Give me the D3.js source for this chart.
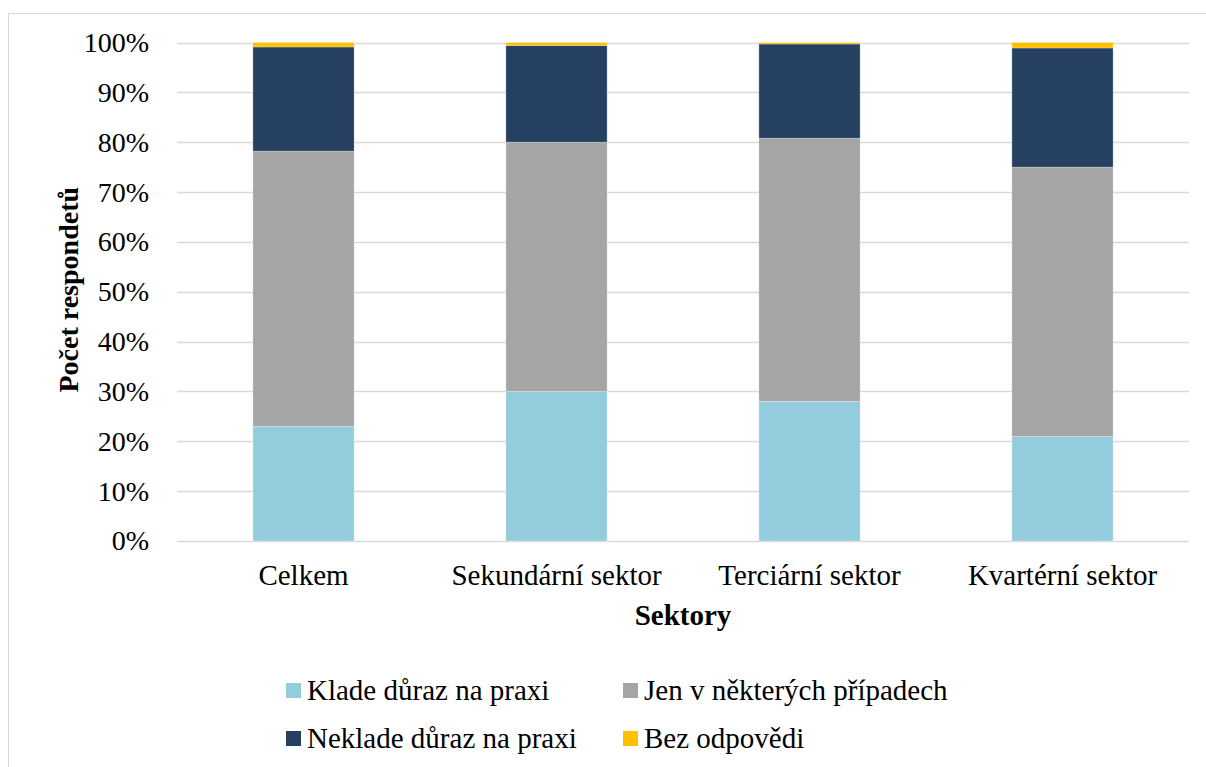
<!DOCTYPE html>
<html>
<head>
<meta charset="utf-8">
<script src="https://cdn.jsdelivr.net/npm/d3@7"></script>
<style>
  html, body { margin: 0; padding: 0; background: #fff; }
  svg { display: block; }
  text { font-family: "Liberation Serif", "Times New Roman", serif; fill: #000; }
</style>
</head>
<body>
<svg id="chart" width="1206" height="767"></svg>
<script>
// Sectors on the x axis
const categories = ["Celkem", "Sekundární sektor", "Terciární sektor", "Kvartérní sektor"];
// Share of respondents per answer (%)
const kladeDuraz = [23.0, 30.0, 28.0, 21.0];
const jenNekdy = [55.2, 50.0, 52.8, 54.0];
const nekladeDuraz = [20.9, 19.4, 18.9, 23.9];
const bezOdpovedi = [0.9, 0.6, 0.3, 1.1];
const seriesNames = ["Klade důraz na praxi", "Jen v některých případech", "Neklade důraz na praxi", "Bez odpovědi"];
const seriesColors = ["#93CDDD", "#A5A5A5", "#254061", "#FFC000"];
const yTicks = [0, 10, 20, 30, 40, 50, 60, 70, 80, 90, 100];

const seriesValues = [kladeDuraz, jenNekdy, nekladeDuraz, bezOdpovedi];
const rows = categories.map((c, i) => {
  const r = { cat: c };
  seriesNames.forEach((s, k) => { r[s] = seriesValues[k][i]; });
  return r;
});
const stacked = d3.stack().keys(seriesNames)(rows);

const svg = d3.select("#chart");
const W = 1206, H = 767;
const m = { left: 177, right: 1189, top: 42.5, bottom: 541 };
const FONT = "Liberation Serif";

// outer frame
svg.append("rect")
  .attr("x", 8.5).attr("y", 13.5)
  .attr("width", W + 10).attr("height", H + 10)
  .attr("fill", "#fff").attr("stroke", "#D9D9D9").attr("stroke-width", 1);

const x = d3.scaleBand().domain(categories).range([m.left, m.right]).paddingInner(0.6).paddingOuter(0.3);
const y = d3.scaleLinear().domain([0, 100]).range([m.bottom, m.top]);

// gridlines
svg.append("g").selectAll("line").data(yTicks).join("line")
  .attr("x1", m.left).attr("x2", m.right)
  .attr("y1", d => Math.round(y(d)) + 0.5).attr("y2", d => Math.round(y(d)) + 0.5)
  .attr("stroke", "#D9D9D9").attr("stroke-width", 1.5);

// y axis labels
const yAxis = d3.axisLeft(y).tickValues(yTicks).tickFormat(d => d + "%").tickSize(0).tickPadding(28);
const ya = svg.append("g").attr("transform", `translate(${m.left},0)`).call(yAxis);
ya.attr("font-family", FONT);
ya.select(".domain").remove();
ya.selectAll("text").style("font-size", "28px").style("font-family", FONT).attr("fill", "#000");

// bars
svg.append("g").selectAll("g").data(stacked).join("g")
  .attr("fill", (d, i) => seriesColors[i])
  .selectAll("rect").data(d => d).join("rect")
  .attr("x", d => x(d.data.cat))
  .attr("width", x.bandwidth())
  .attr("y", d => y(d[1]))
  .attr("height", d => y(d[0]) - y(d[1]))
  .attr("stroke", "rgba(255,255,255,0.35)").attr("stroke-width", 0.75);

// x axis labels
const xAxis = d3.axisBottom(x).tickSize(0).tickPadding(23);
const xa = svg.append("g").attr("transform", `translate(0,${m.bottom})`).call(xAxis);
xa.attr("font-family", FONT);
xa.select(".domain").remove();
xa.selectAll("text").style("font-size", "29px").style("font-family", FONT).attr("fill", "#000");

// axis titles
svg.append("text")
  .attr("x", (m.left + m.right) / 2).attr("y", 625)
  .attr("text-anchor", "middle").style("font-size", "29px").style("font-weight", "bold")
  .text("Sektory");
svg.append("text")
  .attr("transform", `translate(78,${(m.top + m.bottom) / 2 - 2}) rotate(-90)`)
  .attr("text-anchor", "middle").style("font-size", "28px").style("font-weight", "bold")
  .text("Počet respondetů");

// legend
const legendPos = [[286, 700], [623, 700], [286, 748], [623, 748]];
const lg = svg.append("g").selectAll("g").data(seriesNames).join("g")
  .attr("transform", (d, i) => `translate(${legendPos[i][0]},${legendPos[i][1]})`);
lg.append("rect").attr("x", 0).attr("y", -17).attr("width", 15).attr("height", 15)
  .attr("fill", (d, i) => seriesColors[i]);
lg.append("text").attr("x", 21).attr("y", 0).style("font-size", "29px").text(d => d);
</script>
</body>
</html>
